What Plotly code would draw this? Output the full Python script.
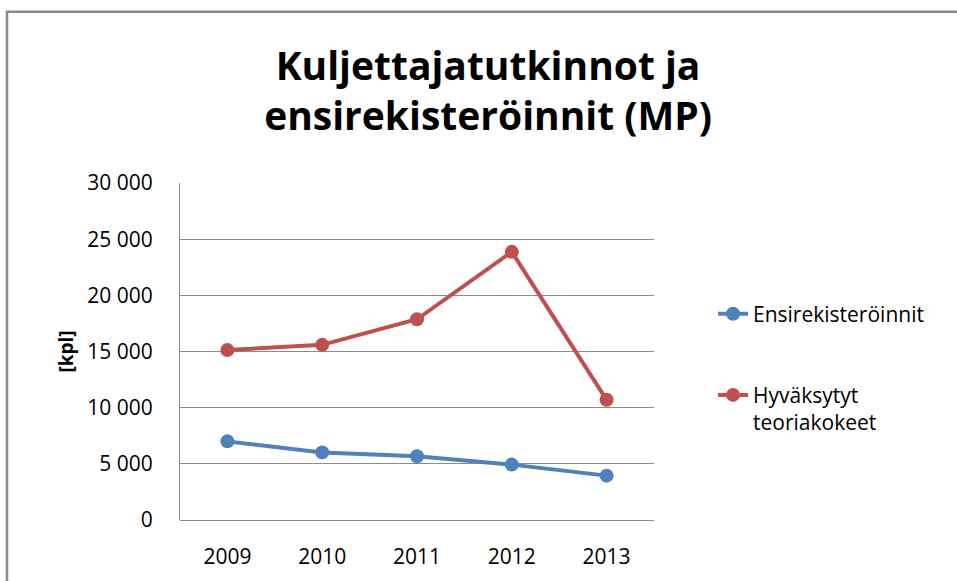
import plotly.graph_objects as go

years = ["2009", "2010", "2011", "2012", "2013"]
ensirekisteroinnit = [7000, 6020, 5670, 4930, 3950]
teoriakokeet = [15140, 15590, 17870, 23870, 10700]
y_ticks = [0, 5000, 10000, 15000, 20000, 25000, 30000]

FONT = "Open Sans"
fig = go.Figure()
fig.add_trace(go.Scatter(
    x=years, y=ensirekisteroinnit, name="Ensirekisteröinnit",
    mode="lines+markers", line=dict(color="#4F81BD", width=4),
    marker=dict(size=14, color="#4F81BD"), legend="legend", showlegend=True))
fig.add_trace(go.Scatter(
    x=years, y=teoriakokeet, name="Hyväksytyt<br>teoriakokeet",
    mode="lines+markers", line=dict(color="#C0504D", width=4),
    marker=dict(size=14, color="#C0504D"), legend="legend2", showlegend=True))

fig.update_layout(
    width=957, height=581,
    margin=dict(l=180, r=303, t=183, b=61),
    paper_bgcolor="white", plot_bgcolor="white",
    separators=". ",
    showlegend=True,
    font=dict(family=FONT, size=21, color="#000000"),
    title=dict(text="<b>Kuljettajatutkinnot ja<br>ensirekisteröinnit (MP)</b>",
               x=0.51, xanchor="center", y=0.863, yanchor="middle",
               font=dict(family=FONT, size=39, color="#000000")),
    xaxis=dict(type="category", range=[-0.5, 4.5], showgrid=False,
               showline=False, ticks="", ticklabelstandoff=22,
               tickfont=dict(size=21)),
    yaxis=dict(range=[0, 30000], tickvals=y_ticks, tickformat=",d",
               showgrid=True, gridcolor="#8C8C8C", gridwidth=1,
               showline=True, linecolor="#8C8C8C", linewidth=1,
               zeroline=True, zerolinecolor="#8C8C8C", zerolinewidth=1,
               ticks="", ticklabelstandoff=22, tickfont=dict(size=21),
               title=dict(text="<b>[kpl]</b>", standoff=8, font=dict(size=19))),
    legend=dict(x=1.1245, y=0.611, xanchor="left", yanchor="middle",
                font=dict(size=21), bgcolor="rgba(0,0,0,0)"),
    legend2=dict(x=1.1245, y=0.431, xanchor="left", yanchor="top",
                 valign="top", font=dict(size=21), bgcolor="rgba(0,0,0,0)"),
    shapes=[dict(type="rect", xref="paper", yref="paper",
                 x0=-0.365, x1=1.8, y0=-0.5, y1=1.508,
                 line=dict(color="#8A8A8A", width=2.5), layer="below")],
)

fig.write_html("out.html", config={"displayModeBar": False},
               post_script="document.body.style.margin='0';")
